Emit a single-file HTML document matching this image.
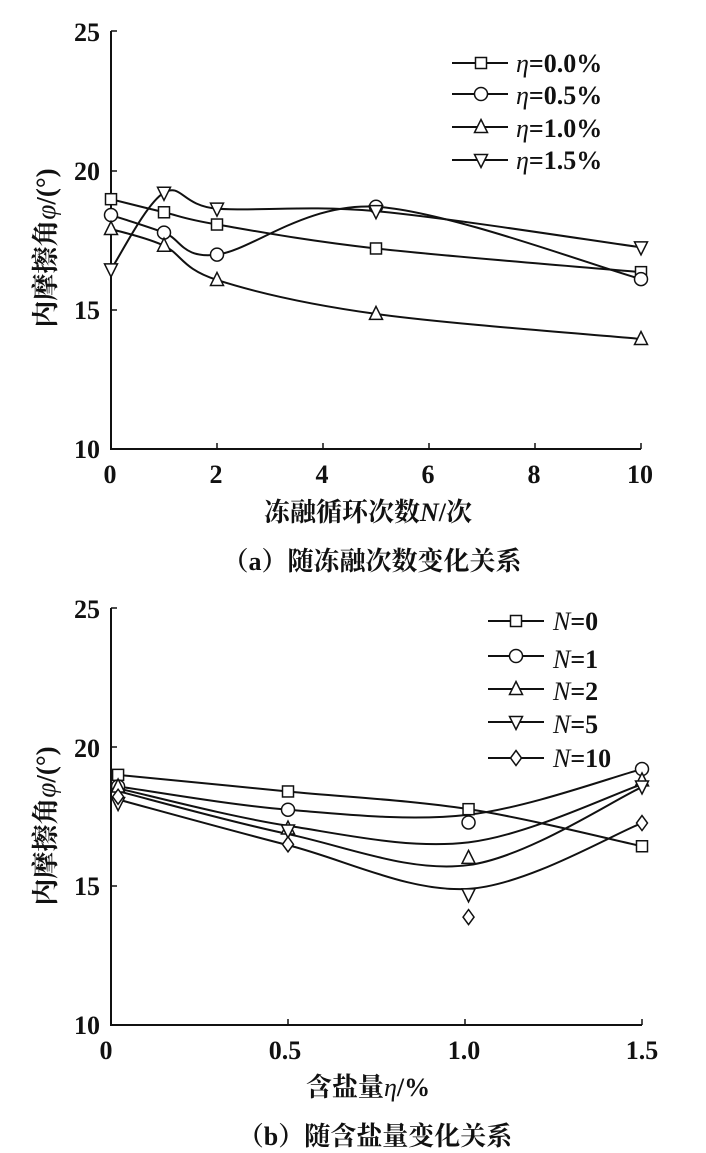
<!DOCTYPE html>
<html><head><meta charset="utf-8"><style>
html,body{margin:0;padding:0;background:#fff;}
svg{display:block;}
text{font-family:"Liberation Serif","Noto Serif CJK SC",serif;fill:#111;font-weight:bold;}
</style></head><body>
<svg id="s" width="706" height="1153" xmlns="http://www.w3.org/2000/svg">
<g id="g"></g>
<g font-size="26" text-anchor="end">
<text x="100" y="41">25</text><text x="100" y="180">20</text><text x="100" y="319">15</text><text x="100" y="458">10</text>
<text x="100" y="618">25</text><text x="100" y="757">20</text><text x="100" y="895">15</text><text x="100" y="1034">10</text>
</g>
<g font-size="26" text-anchor="middle">
<text x="110" y="483">0</text><text x="216" y="483">2</text><text x="322" y="483">4</text><text x="428" y="483">6</text><text x="534" y="483">8</text><text x="640" y="483">10</text>
<text x="106" y="1059">0</text><text x="285" y="1059">0.5</text><text x="464" y="1059">1.0</text><text x="642" y="1059">1.5</text>
</g>
<text x="368" y="521" font-size="26" text-anchor="middle">冻融循环次数<tspan font-style="italic">N</tspan>/次</text>
<text x="372" y="570" font-size="26" text-anchor="middle">（a）随冻融次数变化关系</text>
<text x="368" y="1096" font-size="26" text-anchor="middle">含盐量<tspan font-style="italic" font-weight="normal">η</tspan>/%</text>
<text x="375" y="1145" font-size="26" text-anchor="middle">（b）随含盐量变化关系</text>
<text transform="translate(55,248) rotate(-90)" font-size="27" text-anchor="middle">内摩擦角<tspan font-style="italic" font-weight="normal">φ</tspan>/(°)</text>
<text transform="translate(55,826) rotate(-90)" font-size="27" text-anchor="middle">内摩擦角<tspan font-style="italic" font-weight="normal">φ</tspan>/(°)</text>
<g font-size="26">
<text x="516" y="72"><tspan font-style="italic" font-weight="normal">η</tspan>=0.0%</text>
<text x="516" y="104"><tspan font-style="italic" font-weight="normal">η</tspan>=0.5%</text>
<text x="516" y="137"><tspan font-style="italic" font-weight="normal">η</tspan>=1.0%</text>
<text x="516" y="169"><tspan font-style="italic" font-weight="normal">η</tspan>=1.5%</text>
<text x="553" y="630"><tspan font-style="italic" font-weight="normal">N</tspan>=0</text>
<text x="553" y="668"><tspan font-style="italic" font-weight="normal">N</tspan>=1</text>
<text x="553" y="700"><tspan font-style="italic" font-weight="normal">N</tspan>=2</text>
<text x="553" y="733"><tspan font-style="italic" font-weight="normal">N</tspan>=5</text>
<text x="553" y="767"><tspan font-style="italic" font-weight="normal">N</tspan>=10</text>
</g>
</svg>
<script>
var NS="http://www.w3.org/2000/svg",g=document.getElementById('g');
function el(t,a){var e=document.createElementNS(NS,t);for(var k in a)e.setAttribute(k,a[k]);g.appendChild(e);return e;}
function cr(p){var d="M"+p[0][0]+","+p[0][1];for(var i=0;i<p.length-1;i++){var p0=p[i-1]||p[i],p1=p[i],p2=p[i+1],p3=p[i+2]||p2;
var c1=[p1[0]+(p2[0]-p0[0])/6,p1[1]+(p2[1]-p0[1])/6],c2=[p2[0]-(p3[0]-p1[0])/6,p2[1]-(p3[1]-p1[1])/6];
d+=" C"+c1+" "+c2+" "+p2;}return d;}
function mk(type,x,y){var s=6.5,a={fill:"#fff",stroke:"#111","stroke-width":1.5};
if(type=="sq"){a.x=x-s+1;a.y=y-s+1;a.width=2*s-2;a.height=2*s-2;el("rect",a);}
else if(type=="ci"){a.cx=x;a.cy=y;a.r=s;el("circle",a);}
else if(type=="tu"){a.points=[x,y-s-1,x+s,y+s-1,x-s,y+s-1].join(" ");el("polygon",a);}
else if(type=="td"){a.points=[x,y+s+1,x+s,y-s+1,x-s,y-s+1].join(" ");el("polygon",a);}
else {a.points=[x,y-s-1,x+s-1,y,x,y+s+1,x-s+1,y].join(" ");el("polygon",a);}}
function axes(x0,x1,ytop,ybot,xt,yt){
el("path",{d:"M"+x0+","+ytop+" L"+x0+","+ybot+" L"+x1+","+ybot,fill:"none",stroke:"#111","stroke-width":2});
yt.forEach(function(y){el("line",{x1:x0,x2:x0+6,y1:y,y2:y,stroke:"#111","stroke-width":1.5});});
xt.forEach(function(x){el("line",{x1:x,x2:x,y1:ybot,y2:ybot-6,stroke:"#111","stroke-width":1.5});});}
axes(111,641,31,449,[111,217,323,429,535,641],[31,171,310]);
function ya(v){return 449-(v-10)*27.85;} function xa(n){return 111+n*53;}
var Ns=[0,1,2,5,10];
var A=[["sq",[18.97,18.5,18.06,17.2,16.35]],["ci",[18.4,17.77,16.98,18.7,16.1]],["tu",[17.9,17.3,16.07,14.85,13.95]],["td",[16.45,19.2,18.63,18.54,17.24]]];
A.forEach(function(s){var p=Ns.map(function(n,i){return [xa(n),ya(s[1][i])];});
el("path",{d:cr(p),fill:"none",stroke:"#111","stroke-width":2});
p.forEach(function(q){mk(s[0],q[0],q[1]);});});
[63,94,127,160].forEach(function(y,i){el("line",{x1:452,x2:508,y1:y,y2:y,stroke:"#111","stroke-width":2});mk(A[i][0],481,y);});
axes(111,642,608,1025,[111,288,465,642],[608,747,886]);
function yb(v){return 1025-(v-10)*27.67;} function xb(e){return 111+e*354;}
var Es=[0.02,0.5,1.01,1.5];
var B=[["sq",[19.04,18.44,17.8,16.46],[19.04,18.44,17.8,16.46]],
["ci",[18.62,17.78,17.32,19.25],[18.62,17.78,17.6,19.25]],
["tu",[18.62,17.1,16.04,18.84],[18.55,17.2,16.6,18.7]],
["td",[18.02,17.03,14.72,18.62],[18.45,16.9,15.78,18.6]],
["di",[18.25,16.53,13.9,17.3],[18.15,16.5,14.92,17.3]]];
B.forEach(function(s){var p=Es.map(function(e,i){return [xb(e),yb(s[2][i])];});
el("path",{d:cr(p),fill:"none",stroke:"#111","stroke-width":2});});
B.forEach(function(s){Es.forEach(function(e,i){mk(s[0],xb(e),yb(s[1][i]));});});
[621,656,689,722,758].forEach(function(y,i){el("line",{x1:488,x2:544,y1:y,y2:y,stroke:"#111","stroke-width":2});mk(B[i][0],516,y);});
</script>
</body></html>
